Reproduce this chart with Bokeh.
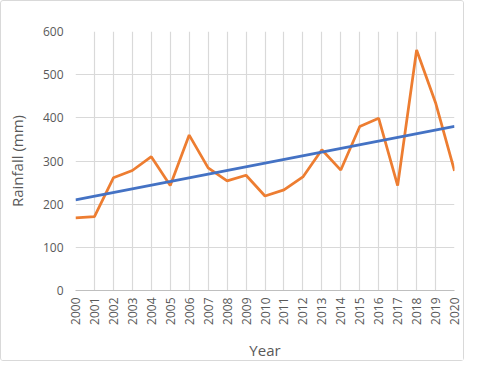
import numpy as np
from bokeh.plotting import figure
from bokeh.models import Range1d, FixedTicker
from bokeh.embed import file_html
from bokeh.resources import INLINE

years = list(range(2000, 2021))
rainfall = [168, 171, 261, 278, 310, 243, 360, 284, 254, 267, 219, 233, 263, 326,
            279, 380, 399, 243, 557, 435, 277]
trend_years = [2000, 2020]
trend_values = [210, 380]
y_ticks = [0, 100, 200, 300, 400, 500, 600]

GRID = "#d9d9d9"
TXT = "#595959"
FONT = "Open Sans"

p = figure(width=464, height=361, output_backend="svg", toolbar_location=None,
           x_range=Range1d(2000, 2020), y_range=Range1d(0, 600),
           min_border_left=74, min_border_right=11, min_border_top=30, min_border_bottom=70)
p.outline_line_color = None
p.styles = {"border": "1px solid #d9d9d9", "border-radius": "3px", "box-sizing": "border-box"}

p.line(years, rainfall, line_color="#ED7D31", line_width=2.75)
p.line(trend_years, trend_values, line_color="#4472C4", line_width=2.75)

p.xaxis.ticker = FixedTicker(ticks=years)
p.yaxis.ticker = FixedTicker(ticks=y_ticks)
p.xgrid.grid_line_color = GRID
p.ygrid.grid_line_color = GRID
p.xgrid.grid_line_width = 1.2
p.ygrid.grid_line_width = 1.2

for ax in (p.xaxis, p.yaxis):
    ax.major_tick_line_color = None
    ax.minor_tick_line_color = None
    ax.major_tick_out = 0
    ax.major_tick_in = 0
    ax.minor_tick_out = 0
    ax.minor_tick_in = 0
    ax.major_label_text_color = TXT
    ax.major_label_text_font = FONT
    ax.major_label_text_font_size = "12px"
    ax.axis_label_text_color = TXT
    ax.axis_label_text_font = FONT
    ax.axis_label_text_font_size = "15px"
    ax.axis_label_text_font_style = "normal"

p.yaxis.axis_line_color = None
p.xaxis.axis_line_color = "#bfbfbf"
p.xaxis.major_label_orientation = np.pi / 2
p.xaxis.major_label_standoff = 7
p.yaxis.major_label_standoff = 12
p.xaxis.axis_label = "Year"
p.yaxis.axis_label = "Rainfall (mm)"
p.xaxis.axis_label_standoff = 12
p.yaxis.axis_label_standoff = 13

open("out.html", "w").write(file_html(p, INLINE))
